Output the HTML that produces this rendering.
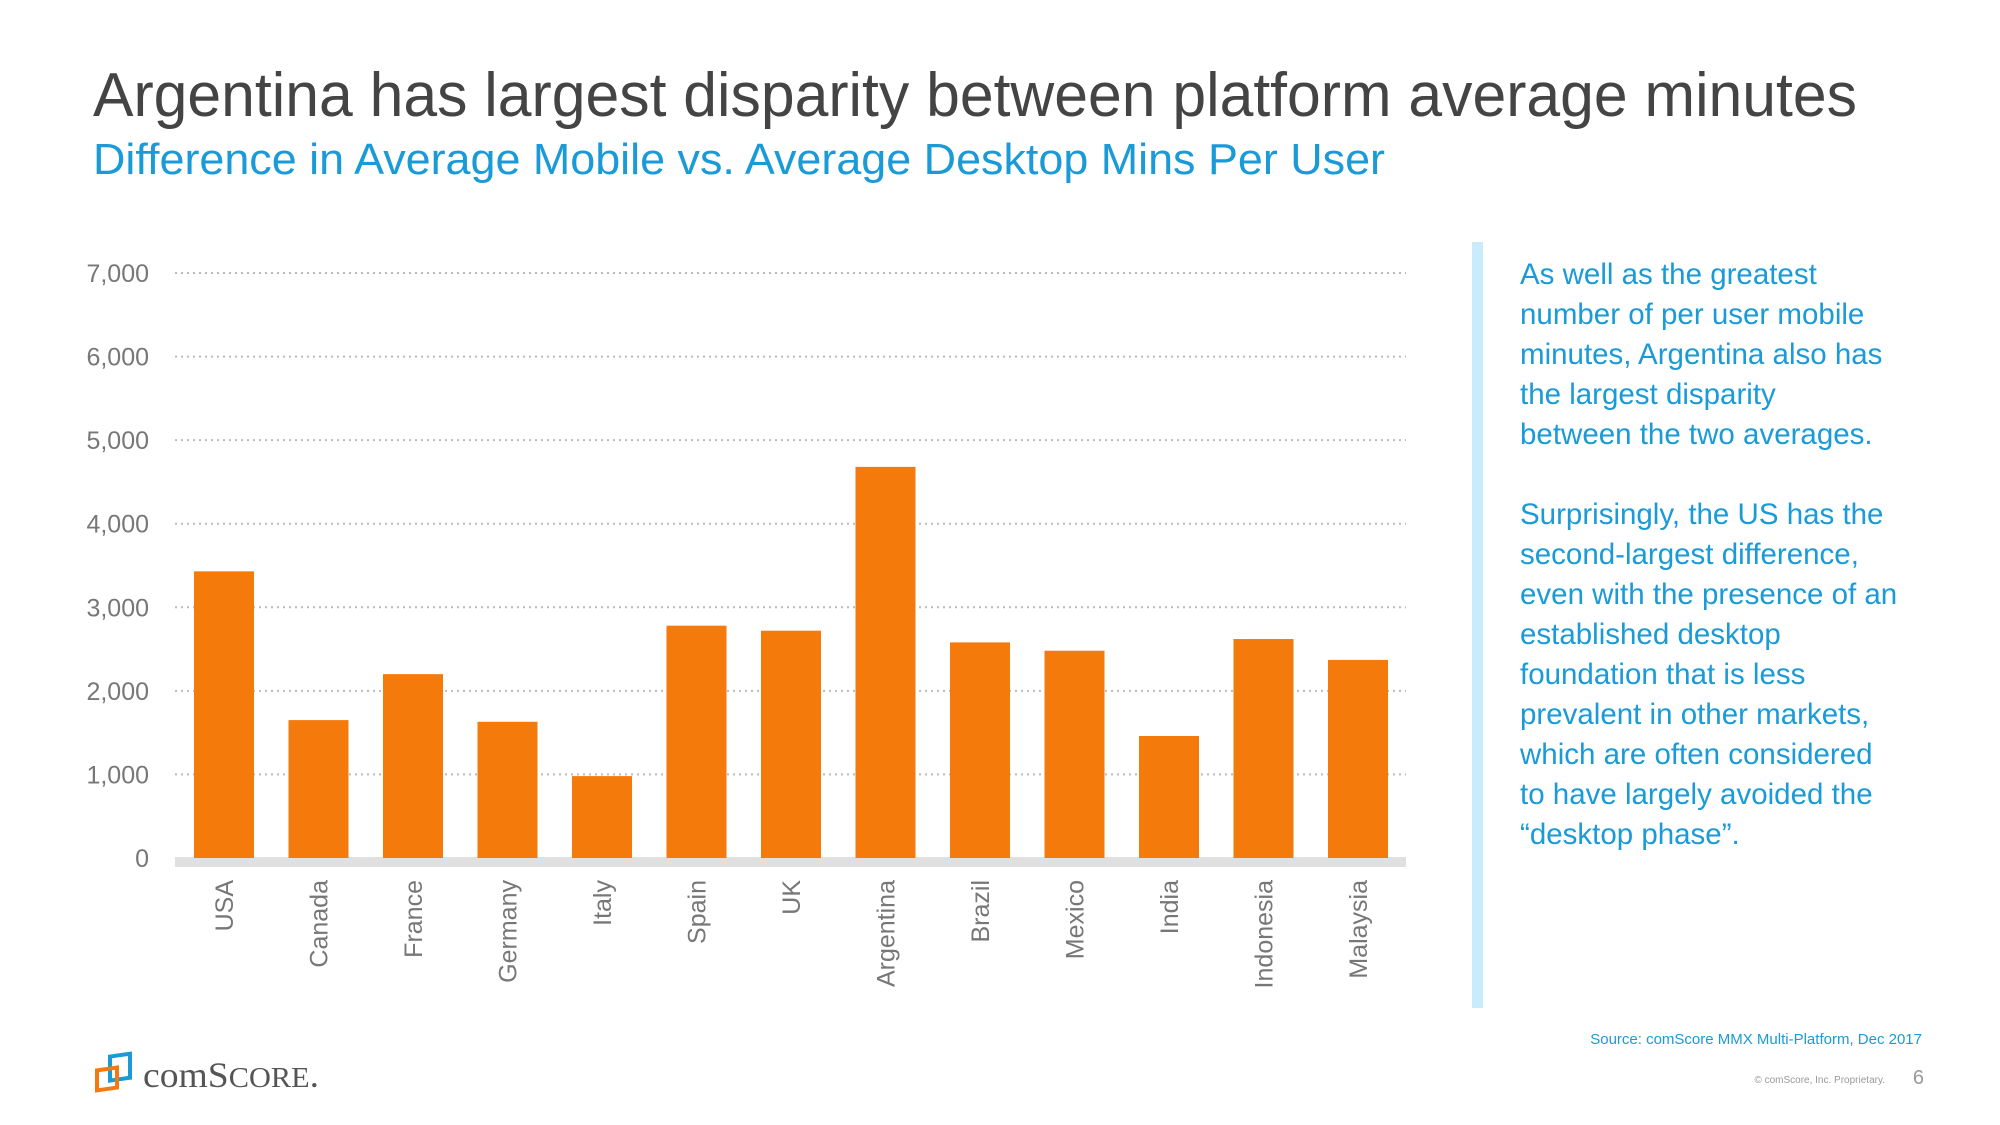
<!DOCTYPE html>
<html><head><meta charset="utf-8"><style>
html,body{margin:0;padding:0;background:#fff;}
svg{display:block;font-family:"Liberation Sans",sans-serif;}
</style></head><body>
<svg id="chart" width="2000" height="1125" viewBox="0 0 2000 1125" xmlns="http://www.w3.org/2000/svg">
<text x="93" y="116" font-size="62" fill="#444" textLength="1764" lengthAdjust="spacingAndGlyphs">Argentina has largest disparity between platform average minutes</text>
<text x="93" y="174" font-size="44" fill="#1a9ad6" textLength="1292" lengthAdjust="spacingAndGlyphs">Difference in Average Mobile vs. Average Desktop Mins Per User</text>
<g id="grid"></g><g id="bars"></g><g id="xlabels"></g>
<rect x="1472" y="242" width="11" height="766" fill="#c8ecfb"/>
<g font-size="29.5" fill="#1a9ad6">
<text x="1520" y="284">As well as the greatest</text>
<text x="1520" y="324">number of per user mobile</text>
<text x="1520" y="364">minutes, Argentina also has</text>
<text x="1520" y="404">the largest disparity</text>
<text x="1520" y="444">between the two averages.</text>
<text x="1520" y="524">Surprisingly, the US has the</text>
<text x="1520" y="564">second-largest difference,</text>
<text x="1520" y="604">even with the presence of an</text>
<text x="1520" y="644">established desktop</text>
<text x="1520" y="684">foundation that is less</text>
<text x="1520" y="724">prevalent in other markets,</text>
<text x="1520" y="764">which are often considered</text>
<text x="1520" y="804">to have largely avoided the</text>
<text x="1520" y="844">“desktop phase”.</text>
</g>
<text x="1922" y="1044" font-size="15" fill="#1a9ad6" text-anchor="end">Source: comScore MMX Multi-Platform, Dec 2017</text>
<text x="1885" y="1083" font-size="10" fill="#999" text-anchor="end">© comScore, Inc. Proprietary.</text>
<text x="1924" y="1084" font-size="20" fill="#999" text-anchor="end">6</text>
<g>
<rect x="110" y="1056" width="20" height="24" fill="none" stroke="#1a9ad6" stroke-width="4" transform="skewY(-8) translate(0,16)"/>
<rect x="97" y="1068" width="20" height="20" fill="none" stroke="#f47a10" stroke-width="4" transform="skewY(-8) translate(0,16)"/>
<text x="143" y="1087" font-size="36" fill="#555" font-family="Liberation Serif, serif" textLength="176" lengthAdjust="spacingAndGlyphs">comS<tspan font-size="29">CORE</tspan>.</text>
</g>
</svg>
<script>
const categories=["USA","Canada","France","Germany","Italy","Spain","UK","Argentina","Brazil","Mexico","India","Indonesia","Malaysia"];
const values=[3430,1650,2200,1630,980,2780,2720,4680,2580,2480,1460,2620,2370];
const tickValues=[0,1000,2000,3000,4000,5000,6000,7000];
const tickLabels=["0","1,000","2,000","3,000","4,000","5,000","6,000","7,000"];
const NS="http://www.w3.org/2000/svg";
const x0=175,x1=1406,y0=858,yTop=273,vmax=7000;
const step=94.5,barW=60,firstX=194;
function yScale(v){return y0-(v/vmax)*(y0-yTop);}
function xScale(i){return firstX+i*step;}
function mk(t,a,p){const e=document.createElementNS(NS,t);for(const k in a)e.setAttribute(k,a[k]);p.appendChild(e);return e;}
const grid=document.getElementById('grid');
tickValues.forEach((v,i)=>{
  const y=yScale(v);
  if(v>0){const l=mk('line',{x1:x0,x2:x1,y1:y,y2:y,stroke:'#bbb','stroke-width':2,'stroke-dasharray':'2 4'},grid);
  
  }
  const t=mk('text',{x:149,y:y+9,'font-size':25,fill:'#777','text-anchor':'end'},grid);
  t.textContent=tickLabels[i];
  
  
});
const base=mk('rect',{x:x0,y:y0-1,width:x1-x0,height:10,fill:'#e0e0e0'},grid);


const bars=document.getElementById('bars'),xl=document.getElementById('xlabels');
values.forEach((v,i)=>{
  const x=xScale(i),y=yScale(v);
  const r=mk('rect',{x:x,y:y,width:barW,height:y0-y,fill:'#f47a0c'},bars);
  
  
  const cx=x+barW/2+9;
  const t=mk('text',{x:cx,y:880,'font-size':25,fill:'#777','text-anchor':'end',transform:`rotate(-90 ${cx} 880)`},xl);
  t.textContent=categories[i];
  
  
});
</script>
</body></html>
